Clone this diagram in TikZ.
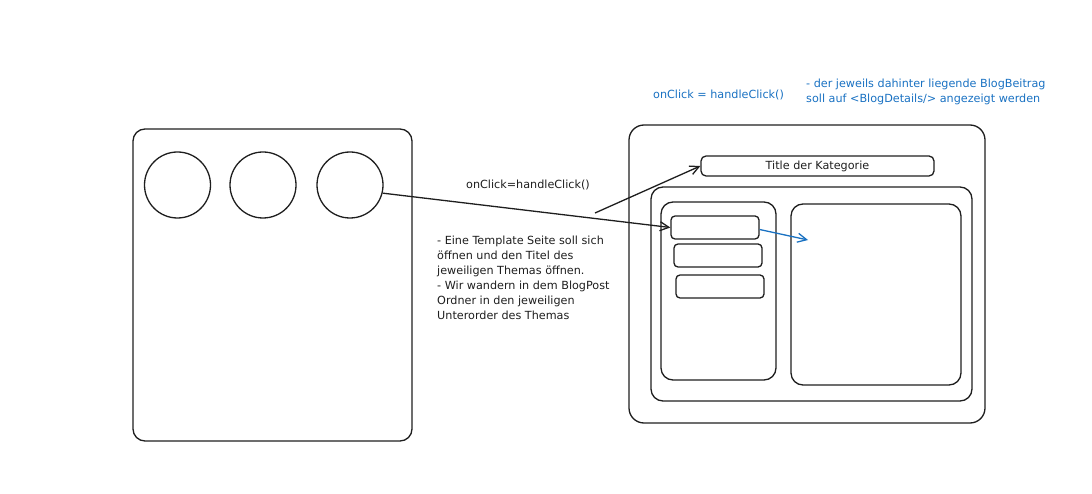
\documentclass[tikz,border=0pt]{standalone}
\usepackage{fontspec}
\setmainfont{DejaVu Sans}
\usepackage{tikz}
\usetikzlibrary{arrows,arrows.meta,shapes,positioning}
\definecolor{ink}{HTML}{1E1E1E}
\definecolor{noteblue}{HTML}{1971C2}

\begin{document}
\begin{tikzpicture}[x=1pt,y=-1pt]
                    \tikzstyle{every node}+=[inner sep=0pt]
                    \tikzstyle{frame}=[draw=ink,line width=1.3pt,rectangle,rounded corners=#1]
                    \tikzstyle{dot}=[draw=ink,line width=1.3pt,circle,minimum size=66pt]
                    \tikzstyle{txt}=[font=\fontsize{11.2}{15}\selectfont,text=ink]
                    \tikzstyle{bluetxt}=[font=\fontsize{11.2}{15}\selectfont,text=noteblue]
                    \tikzstyle{link}=[draw=ink,line width=1.3pt,-{Straight Barb[length=9pt,width=9pt]}]
                    \useasboundingbox (0,0) rectangle (1092,494);
                    % left page with three topics
                    \node [frame=12pt,minimum width=279pt,minimum height=312pt] (page) at (272.5,285) {};
                    \node [dot] (c1) at (177.5,185) {};
                    \node [dot] (c2) at (263,185) {};
                    \node [dot] (c3) at (350,185) {};
                    % template page
                    \node [frame=15pt,minimum width=356pt,minimum height=298pt] (tmpl) at (807,274) {};
                    \node [frame=5pt,minimum width=233pt,minimum height=20pt,txt] (title) at (817.5,166) {Title der Kategorie};
                    \node [frame=12pt,minimum width=321pt,minimum height=214pt] (body) at (811.5,294) {};
                    \node [frame=12pt,minimum width=115pt,minimum height=178pt] (list) at (718.5,291) {};
                    \node [frame=12pt,minimum width=170pt,minimum height=181pt] (detail) at (876,294.5) {};
                    \node [frame=4pt,minimum width=88pt,minimum height=23pt] (b1) at (715,227.5) {};
                    \node [frame=4pt,minimum width=88pt,minimum height=23pt] (b2) at (718,255.5) {};
                    \node [frame=4pt,minimum width=88pt,minimum height=23pt] (b3) at (720,286.5) {};
                    % arrows
                    \coordinate (fork) at (595,213);
                    \coordinate (shown) at (808,240);
                    \draw [link] (c3.-14) -- (b1.west);
                    \draw [link] (fork) -- (title.west);
                    \draw [draw=noteblue,line width=1.3pt,-{Straight Barb[length=9pt,width=9pt]}] ([yshift=-2pt]b1.east) -- (shown);
                    % notes
                    \node [txt] (click) at (528,185) {onClick=handleClick()};
                    \node [txt,anchor=north west,align=left] (note) at (437,236) {- Eine Template Seite soll sich\\öffnen und den Titel des\\jeweiligen Themas öffnen.\\- Wir wandern in dem BlogPost\\Ordner in den jeweiligen\\Unterorder des Themas};
                    \node [bluetxt,anchor=west] (click2) at (653,95) {onClick = handleClick()};
                    \node [bluetxt,anchor=north west,align=left] (blog) at (806,79) {- der jeweils dahinter liegende BlogBeitrag\\soll auf <BlogDetails/> angezeigt werden};
\end{tikzpicture}
\end{document}
